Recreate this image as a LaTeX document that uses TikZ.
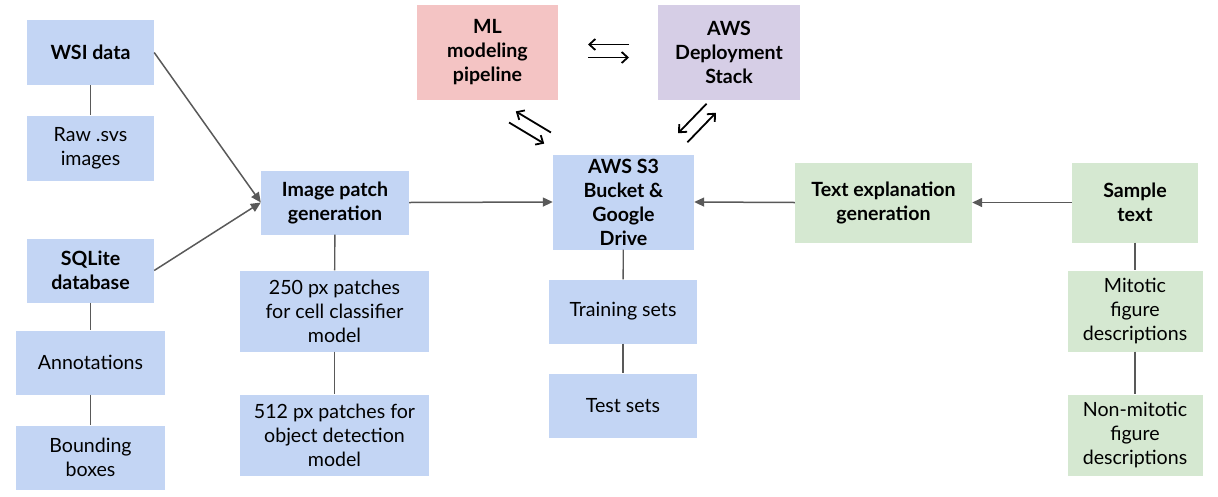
\documentclass[tikz,border=0pt]{standalone}
\usepackage{fontspec}
\setmainfont{Lato}
\usetikzlibrary{arrows.meta}
\definecolor{bluebox}{HTML}{C3D5F4}
\definecolor{pinkbox}{HTML}{F4C4C4}
\definecolor{purplebox}{HTML}{D6CEE6}
\definecolor{greenbox}{HTML}{D5E8D1}
\definecolor{linegray}{HTML}{595959}
\tikzset{
  box/.style={draw=none, inner sep=2pt, align=center, font=\fontsize{19.6}{24}\selectfont},
  bluenode/.style={box, fill=bluebox},
  pinknode/.style={box, fill=pinkbox},
  purplenode/.style={box, fill=purplebox},
  greennode/.style={box, fill=greenbox},
  hd/.style={font=\fontsize{19.6}{24}\selectfont\bfseries},
  flow/.style={draw=linegray, line width=1.5pt, -{Triangle[length=10pt,width=9pt]}},
  link/.style={draw=linegray, line width=1.4pt},
  swapline/.style={draw=black, line width=1.8pt, -{Straight Barb[length=6pt,width=11pt]}},
  swap/.pic={
    \draw[swapline] (20.5,-6.5) -- (-20.5,-6.5);
    \draw[swapline] (-20.5,6.5) -- (20.5,6.5);
  }
}
\begin{document}
\begin{tikzpicture}[x=1pt, y=-1pt]
\useasboundingbox (0,0) rectangle (1218,496);
% left column
\node[bluenode, hd, minimum width=127pt, minimum height=65pt] (wsi) at (90.5,52.5) {WSI data};
\node[bluenode, minimum width=127pt, minimum height=65pt] (raw) at (90.5,148) {Raw .svs\\images};
\node[bluenode, hd, minimum width=127pt, minimum height=64pt] (sql) at (90.5,270.5) {SQLite\\database};
\node[bluenode, minimum width=149pt, minimum height=64pt] (ann) at (90.5,362.5) {Annotations};
\node[bluenode, minimum width=149pt, minimum height=64pt] (bbox) at (90.5,457.5) {Bounding\\boxes};
% patches
\node[bluenode, hd, minimum width=148pt, minimum height=64pt] (patch) at (335,202.5) {Image patch\\generation};
\node[bluenode, minimum width=189pt, minimum height=81pt] (p250) at (334.5,311) {250 px patches\\for cell classifier\\model};
\node[bluenode, minimum width=189pt, minimum height=81pt] (p512) at (334.5,435) {512 px patches for\\object detection\\model};
% top
\node[pinknode, hd, minimum width=141pt, minimum height=95pt] (ml) at (487.5,52) {ML\\modeling\\pipeline};
\node[purplenode, hd, minimum width=142pt, minimum height=95pt] (aws) at (729,52) {AWS\\Deployment\\Stack};
% storage
\node[bluenode, hd, minimum width=141pt, minimum height=95pt] (s3) at (623.5,202) {AWS S3\\Bucket \&\\Google\\Drive};
\node[bluenode, minimum width=148pt, minimum height=64pt] (train) at (623,311.5) {Training sets};
\node[bluenode, minimum width=148pt, minimum height=64pt] (test) at (623,405.5) {Test sets};
% text side
\node[greennode, hd, minimum width=177pt, minimum height=80pt] (textexp) at (883.5,202.5) {Text explanation\\generation};
\node[greennode, hd, minimum width=126pt, minimum height=80pt] (sample) at (1135,202.5) {Sample\\text};
\node[greennode, minimum width=135pt, minimum height=81pt] (mit) at (1135,311) {Mitotic\\figure\\descriptions};
\node[greennode, minimum width=135pt, minimum height=81pt] (nonmit) at (1135,435) {Non-mitotic\\figure\\descriptions};
% plain links
\draw[link] (wsi) -- (raw);
\draw[link] (sql) -- (ann);
\draw[link] (ann) -- (bbox);
\draw[link] (patch) -- (p250);
\draw[link] (p250) -- (p512);
\draw[link] (s3) -- (train);
\draw[link] (train) -- (test);
\draw[link] (sample) -- (mit);
\draw[link] (mit) -- (nonmit);
% flows
\draw[flow] (wsi.east) -- (patch.west);
\draw[flow] (sql.east) -- (patch.west);
\draw[flow] (patch.east) -- (s3.west);
\draw[flow] (textexp.west) -- (s3.east);
\draw[flow] (sample.west) -- (textexp.east);
% swap symbols
\coordinate (swaptop) at (608.5,51);
\coordinate (swapleft) at (530,127.5);
\coordinate (swapright) at (697,123);
\pic at (swaptop) {swap};
\pic[rotate=-31] at (swapleft) {swap};
\pic[rotate=46] at (swapright) {swap};
\end{tikzpicture}
\end{document}
